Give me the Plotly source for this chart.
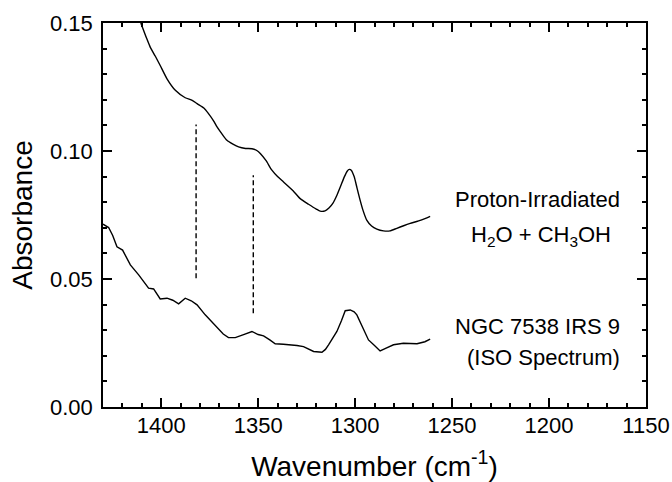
import plotly.graph_objects as go

# Proton-irradiated H2O + CH3OH (lab spectrum)
lab_wn = [1410.5, 1407.5, 1405.6, 1403, 1400.5, 1397, 1392.7, 1387.6, 1384, 1381.5,
          1378, 1375.6, 1373, 1371.2, 1368.5, 1366.1, 1363, 1360.1, 1356.5, 1353.2,
          1350.5, 1348.9, 1346, 1342.9, 1340, 1336.9, 1332, 1328.3, 1324, 1320,
          1318, 1315.5, 1313.5, 1311.5, 1309.5, 1307.5, 1305.5, 1304, 1303, 1302,
          1300.5, 1299, 1297.5, 1296, 1294, 1291.5, 1288.8, 1285.4, 1282, 1278.5,
          1275, 1271.6, 1266, 1261.3]
lab_abs = [0.1500, 0.1440, 0.1405, 0.1370, 0.1334, 0.1282, 0.1237, 0.1208, 0.1198, 0.1185,
           0.1168, 0.1146, 0.1118, 0.1094, 0.1065, 0.1042, 0.1027, 0.1016, 0.1010, 0.1009,
           0.1001, 0.0990, 0.0963, 0.0925, 0.0900, 0.0879, 0.0845, 0.0814, 0.0792, 0.0773,
           0.0765, 0.0766, 0.0777, 0.0795, 0.0825, 0.0862, 0.0900, 0.0922, 0.0928, 0.0925,
           0.0900, 0.0855, 0.0810, 0.0770, 0.0730, 0.0707, 0.0695, 0.0688, 0.0688, 0.0698,
           0.0708, 0.0717, 0.0730, 0.0745]

# NGC 7538 IRS 9 (ISO spectrum)
iso_wn = [1430, 1427.1, 1425, 1422.8, 1419.9, 1418, 1415.9, 1411.6, 1409, 1406.5,
          1403.9, 1400.5, 1397, 1394, 1391, 1387.6, 1384.5, 1381.5, 1377.3, 1374,
          1371.2, 1368, 1365.3, 1361.8, 1357.5, 1353.2, 1350, 1347.2, 1344, 1341.2,
          1337, 1333.5, 1330, 1326.6, 1323.5, 1321.4, 1317.1, 1315.3, 1313.7, 1311.5,
          1309.4, 1307, 1305.1, 1302.5, 1300.5, 1299.1, 1297.5, 1295.7, 1293.1, 1290,
          1287.1, 1284, 1280.2, 1275.1, 1268.1, 1264, 1261.3]
iso_abs = [0.0714, 0.0701, 0.0670, 0.0626, 0.0613, 0.0585, 0.0555, 0.0516, 0.0490, 0.0464,
           0.0461, 0.0422, 0.0425, 0.0417, 0.0403, 0.0425, 0.0415, 0.0399, 0.0360, 0.0333,
           0.0308, 0.0285, 0.0271, 0.0271, 0.0283, 0.0295, 0.0283, 0.0278, 0.0262, 0.0247,
           0.0245, 0.0243, 0.0240, 0.0236, 0.0226, 0.0217, 0.0214, 0.0225, 0.0243, 0.0268,
           0.0295, 0.0338, 0.0376, 0.0379, 0.0372, 0.0360, 0.0335, 0.0305, 0.0262, 0.0240,
           0.0219, 0.0230, 0.0243, 0.0249, 0.0247, 0.0255, 0.0265]

# Band markers (dashed lines)
band_wn = [1382, 1352.5]
band_lo = [0.0503, 0.0366]
band_hi = [0.1104, 0.0905]

x_ticks = [1400, 1350, 1300, 1250, 1200, 1150]
y_ticks = [0.00, 0.05, 0.10, 0.15]

FONT = "Liberation Sans, Arial, sans-serif"

fig = go.Figure()
fig.add_trace(go.Scatter(x=lab_wn, y=lab_abs, mode="lines",
                         line=dict(color="black", width=1.4, shape="spline", smoothing=0.6),
                         showlegend=False, hoverinfo="skip"))
fig.add_trace(go.Scatter(x=iso_wn, y=iso_abs, mode="lines",
                         line=dict(color="black", width=1.4),
                         showlegend=False, hoverinfo="skip"))
for wn, lo, hi in zip(band_wn, band_lo, band_hi):
    fig.add_trace(go.Scatter(x=[wn, wn], y=[lo, hi], mode="lines",
                             line=dict(color="black", width=1.4, dash="5px,3px"),
                             showlegend=False, hoverinfo="skip"))

ann_font = dict(family=FONT, size=22, color="black")
labels = [
    ("Proton-Irradiated", 1206.1, 0.0812),
    ("H<sub>2</sub>O + CH<sub>3</sub>OH", 1204.1, 0.0667),
    ("NGC 7538 IRS 9", 1206.1, 0.0313),
    ("(ISO Spectrum)", 1203.0, 0.0194),
]
for txt, ax_, ay_ in labels:
    fig.add_annotation(x=ax_, y=ay_, text=txt, showarrow=False, xanchor="center",
                       yanchor="middle", font=ann_font)

axis_common = dict(showline=True, linecolor="black", linewidth=1.5, mirror="ticks",
                   ticks="inside", ticklen=9, tickwidth=1.5, tickcolor="black",
                   showgrid=False, zeroline=False)

fig.update_xaxes(range=[1430, 1150], tickvals=x_ticks,
                 ticktext=[str(v) for v in x_ticks],
                 tickfont=dict(family=FONT, size=22, color="black"),
                 ticklabelstandoff=-2,
                 minor=dict(ticks="inside", ticklen=4, tickwidth=1.5, dtick=10,
                            tick0=1150, tickcolor="black", showgrid=False),
                 title=dict(text="Wavenumber (cm<sup>-1</sup>)",
                            font=dict(family=FONT, size=28, color="black"), standoff=21),
                 **axis_common)
fig.update_yaxes(range=[0, 0.15], tickvals=y_ticks,
                 ticktext=["%.2f" % v for v in y_ticks],
                 tickfont=dict(family=FONT, size=22, color="black"),
                 ticklabelstandoff=4,
                 minor=dict(ticks="inside", ticklen=4, tickwidth=1.5, dtick=0.01,
                            tick0=0, tickcolor="black", showgrid=False),
                 title=dict(text="Absorbance",
                            font=dict(family=FONT, size=28, color="black"), standoff=9),
                 **axis_common)

fig.update_layout(width=672, height=482,
                  margin=dict(l=103, r=26, t=23, b=75, autoexpand=False),
                  paper_bgcolor="white", plot_bgcolor="white",
                  font=dict(family=FONT, color="black"))

fig.write_html("out.html", config={"displayModeBar": False},
               post_script="document.body.style.margin='0';document.body.style.overflow='hidden';")
